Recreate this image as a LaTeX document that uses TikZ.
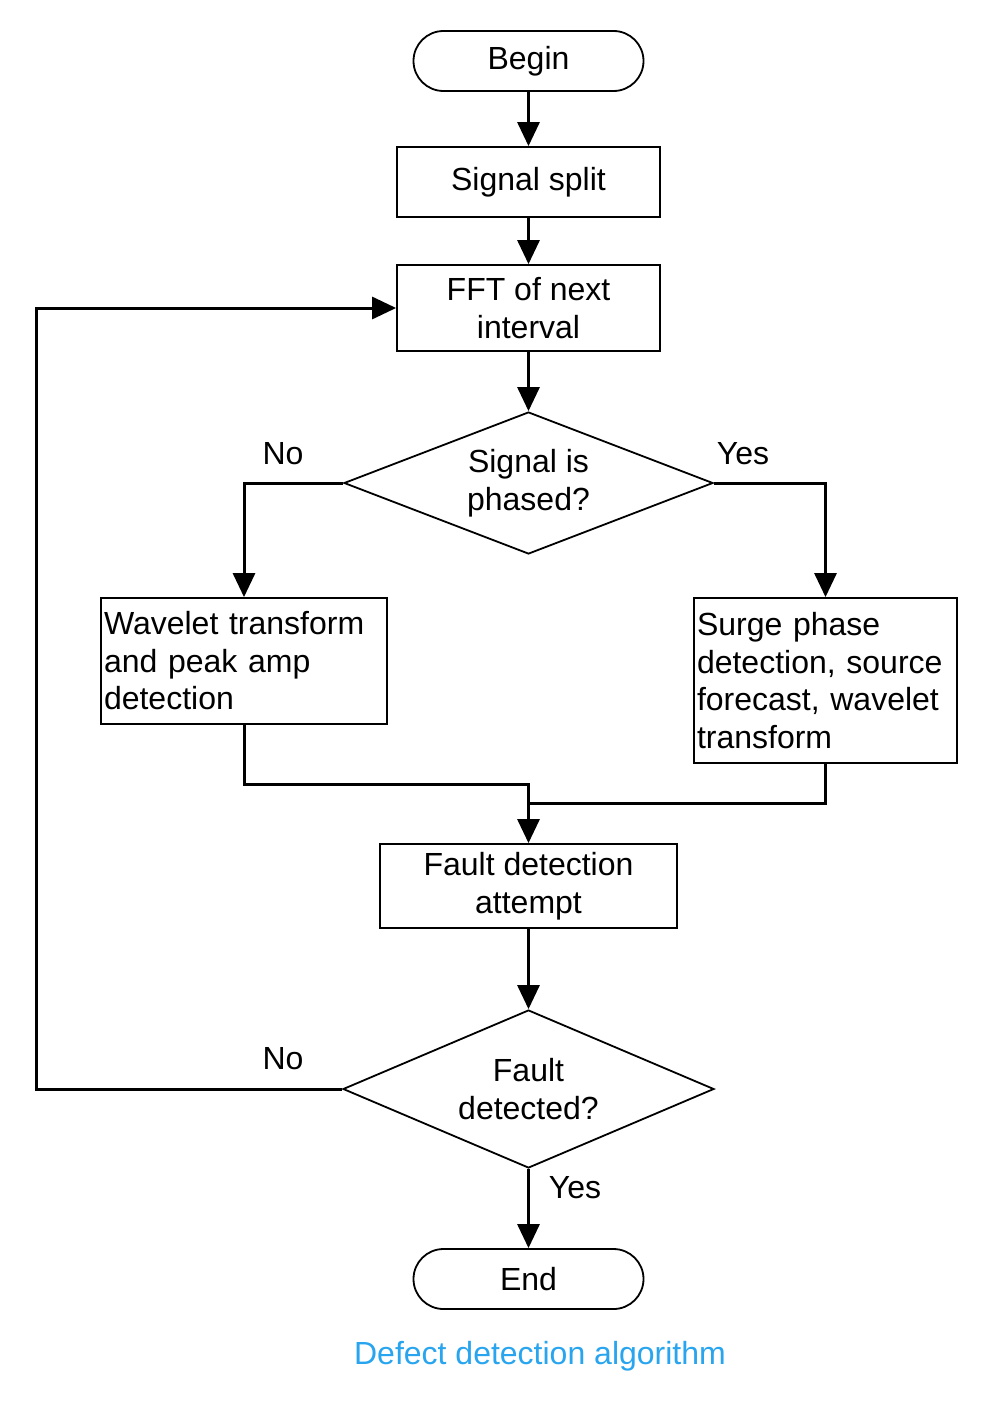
\documentclass[tikz,border=0pt]{standalone}
\usepackage{fontspec}
\setmainfont{Liberation Sans}
\usetikzlibrary{arrows.meta,shapes.geometric}
\definecolor{capblue}{RGB}{40,165,238}
\begin{document}
\begin{tikzpicture}[x=1pt,y=-1pt,
  font=\fontsize{32}{37.5}\selectfont,
  term/.style={draw, line width=1.8pt, rounded corners=30pt, minimum width=230pt, minimum height=60pt, inner sep=0pt},
  proc/.style={draw, line width=1.8pt, inner sep=0pt, align=center},
  dec/.style={draw, diamond, line width=1.8pt, inner sep=0pt, align=center},
  conn/.style={line width=3pt, -{Triangle[width=22pt,length=24pt]}},
  wire/.style={line width=3pt},
  lab/.style={inner sep=0pt}]
\useasboundingbox (0,0) rectangle (1000,1405);
\node[term] (begin) at (528.5,61) {Begin};
\node[proc, minimum width=263pt, minimum height=70pt] (split) at (528.5,182) {Signal split};
\node[proc, minimum width=263pt, minimum height=86pt] (fft) at (528.5,308) {FFT of next\\interval};
\node[dec, aspect=2.6, minimum width=369pt, minimum height=142pt] (phase) at (528.5,483) {Signal is\\phased?};
\node[proc, minimum width=286pt, minimum height=126pt, text width=280pt, align=left] (wav) at (244,661) {Wavelet transform\\and peak amp\\detection};
\node[proc, minimum width=263pt, minimum height=165pt, text width=257pt, align=left] (surge) at (825.5,680.5) {Surge phase\\detection, source\\forecast, wavelet\\transform};
\node[proc, minimum width=297pt, minimum height=84pt] (attempt) at (528.5,886) {Fault detection\\attempt};
\node[dec, aspect=2.35, minimum width=371pt, minimum height=158pt] (fault) at (528.5,1089) {Fault\\detected?};
\node[term] (end) at (528.5,1279) {End};
\coordinate (j1) at (528.5,784);
\coordinate (j2) at (528.5,803);
\coordinate (loopx) at (36,700);
\draw[conn] (begin) -- (split);
\draw[conn] (split) -- (fft);
\draw[conn] (fft) -- (phase);
\draw[conn] (phase.west) -| (wav.north);
\draw[conn] (phase.east) -| (surge.north);
\draw[conn] (wav.south) |- (j1) -- (attempt.north);
\draw[wire] (surge.south) |- (j2);
\draw[conn] (attempt) -- (fault);
\draw[conn] (fault) -- (end);
\draw[conn] (fault.west) -| (loopx) |- (fft.west);
\node[lab] (no1) at (283,454) {No};
\node[lab] (yes1) at (743,454) {Yes};
\node[lab] (no2) at (283,1059) {No};
\node[lab] (yes2) at (575,1188) {Yes};
\node[lab, text=capblue] (cap) at (540,1356) {Defect detection algorithm};
\end{tikzpicture}
\end{document}
